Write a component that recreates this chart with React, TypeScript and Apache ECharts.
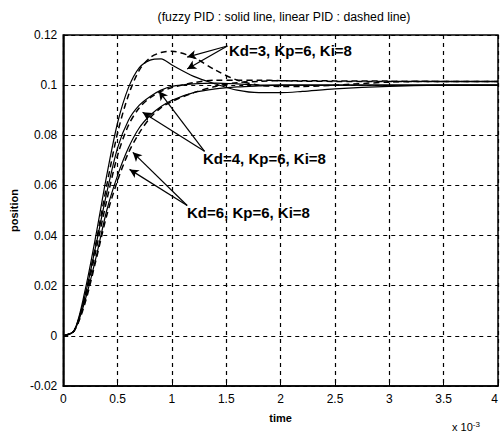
import React, { useEffect, useRef } from "react";
import * as echarts from "echarts";

const timeTicks = [0, 0.1, 0.2, 0.3, 0.4, 0.5, 0.6, 0.7, 0.8, 0.9, 1.0, 1.2, 1.4, 1.6, 1.8, 2.0, 2.2, 2.5, 3.0, 3.5, 4.0];

const fuzzyKd3 = [0, 0.002, 0.018, 0.040, 0.064, 0.085, 0.099, 0.107, 0.110, 0.1105, 0.108, 0.1035, 0.1005, 0.098, 0.097, 0.097, 0.0975, 0.0985, 0.0995, 0.1, 0.1];
const linearKd3 = [0, 0.002, 0.016, 0.037, 0.060, 0.081, 0.096, 0.106, 0.111, 0.113, 0.1135, 0.111, 0.106, 0.102, 0.1, 0.0995, 0.0995, 0.1, 0.1012, 0.1015, 0.1015];
const fuzzyKd4 = [0, 0.002, 0.016, 0.036, 0.057, 0.075, 0.086, 0.092, 0.0955, 0.098, 0.0995, 0.1005, 0.1008, 0.1005, 0.1, 0.1, 0.1, 0.1, 0.1, 0.1, 0.1];
const linearKd4 = [0, 0.002, 0.015, 0.034, 0.054, 0.072, 0.084, 0.091, 0.095, 0.0975, 0.099, 0.101, 0.102, 0.102, 0.102, 0.1018, 0.1016, 0.1015, 0.1015, 0.1015, 0.1015];
const fuzzyKd6 = [0, 0.002, 0.014, 0.031, 0.050, 0.064, 0.075, 0.083, 0.088, 0.0915, 0.094, 0.097, 0.0985, 0.0993, 0.0997, 0.1, 0.1, 0.1, 0.1, 0.1, 0.1];
const linearKd6 = [0, 0.002, 0.013, 0.030, 0.048, 0.062, 0.073, 0.081, 0.087, 0.091, 0.0935, 0.097, 0.0995, 0.101, 0.1015, 0.1018, 0.1018, 0.1017, 0.1016, 0.1015, 0.1015];

const annotationLabels = ["Kd=3, Kp=6, Ki=8", "Kd=4, Kp=6, Ki=8", "Kd=6, Kp=6, Ki=8"];
// arrows: [start, end] in data coordinates (time x1e-3, position)
const arrowsKd3 = [[[1.51, 0.1156], [1.14, 0.1112]], [[1.51, 0.1156], [1.14, 0.1064]]];
const arrowsKd4 = [[[1.30, 0.0736], [0.88, 0.0976]], [[1.30, 0.0736], [0.73, 0.0892]]];
const arrowsKd6 = [[[1.14, 0.052], [0.64, 0.0732]], [[1.14, 0.052], [0.61, 0.0664]]];

const pairs = (ys: number[]) => timeTicks.map((t, i) => [t, ys[i]]);

export default function App() {
  const ref = useRef<HTMLDivElement>(null);
  useEffect(() => {
    if (!ref.current) return;
    const chart = echarts.init(ref.current, null, { renderer: "svg" });
    const font = "Liberation Sans, Arial, sans-serif";
    const solid = (name: string, ys: number[]) => ({
      name, type: "line", data: pairs(ys), showSymbol: false, smooth: 0.3,
      lineStyle: { color: "#000", width: 1.2, type: "solid" },
    });
    const dashed = (name: string, ys: number[]) => ({
      name, type: "line", data: pairs(ys), showSymbol: false, smooth: 0.3,
      lineStyle: { color: "#000", width: 1.5, type: [6, 4] },
    });
    const allArrows = [...arrowsKd3, ...arrowsKd4, ...arrowsKd6].map((a) => [
      { coord: a[0], symbol: "none" },
      { coord: a[1], symbol: "arrow" },
    ]);
    const fmt = (v: number) => String(parseFloat(v.toFixed(2)));
    chart.setOption({
      animation: false,
      backgroundColor: "#fff",
      textStyle: { fontFamily: font },
      title: {
        text: "(fuzzy PID : solid line, linear PID : dashed line)",
        left: 279, top: 6, textAlign: "center",
        textStyle: { fontSize: 12.3, fontWeight: "normal", color: "#000", fontFamily: font },
      },
      grid: { left: 60, right: 2, top: 35, bottom: 50, show: true, borderColor: "#000", borderWidth: 1.5 },
      xAxis: {
        type: "value", min: 0, max: 4, interval: 0.5,
        name: "time", nameLocation: "middle", nameGap: 26,
        nameTextStyle: { fontSize: 11, fontWeight: "bold", color: "#000" },
        axisLine: { onZero: false, lineStyle: { color: "#000", width: 1.5 } },
        axisTick: { inside: true, lineStyle: { color: "#000" } },
        axisLabel: { color: "#000", fontSize: 12, margin: 7, alignMaxLabel: "right", showMaxLabel: true, formatter: fmt },
        splitLine: { show: true, lineStyle: { color: "#000", type: [4, 4], width: 1.2 } },
      },
      yAxis: {
        type: "value", min: -0.02, max: 0.12, interval: 0.02,
        name: "position", nameLocation: "middle", nameGap: 42,
        nameTextStyle: { fontSize: 11, fontWeight: "bold", color: "#000" },
        axisLine: { onZero: false, lineStyle: { color: "#000", width: 1.5 } },
        axisTick: { inside: true, lineStyle: { color: "#000" } },
        axisLabel: { color: "#000", fontSize: 12, margin: 6, formatter: fmt },
        splitLine: { show: true, lineStyle: { color: "#000", type: [4, 4], width: 1.2 } },
      },
      series: [
        { ...solid("fuzzy Kd=3", fuzzyKd3),
          markLine: { silent: true, symbolSize: [7, 9], lineStyle: { color: "#000", width: 1.2, type: "solid" }, label: { show: false }, data: allArrows } },
        dashed("linear Kd=3", linearKd3),
        solid("fuzzy Kd=4", fuzzyKd4),
        dashed("linear Kd=4", linearKd4),
        solid("fuzzy Kd=6", fuzzyKd6),
        dashed("linear Kd=6", linearKd6),
      ],
      graphic: [
        { type: "text", left: 229, top: 43, style: { text: annotationLabels[0], font: "bold 15px " + font, fill: "#000" } },
        { type: "text", left: 203, top: 151, style: { text: annotationLabels[1], font: "bold 15px " + font, fill: "#000" } },
        { type: "text", left: 187, top: 205, style: { text: annotationLabels[2], font: "bold 15px " + font, fill: "#000" } },
        { type: "text", left: 452, top: 420, style: {
            text: "{a|x 10}{b|-3}", fill: "#000",
            rich: { a: { fontSize: 11, fontFamily: font, fill: "#000" }, b: { fontSize: 8, fontFamily: font, verticalAlign: "top", padding: [0, 0, 6, 0], fill: "#000" } },
          } },
      ],
    });
    return () => chart.dispose();
  }, []);
  return <div ref={ref} style={{ position: "absolute", left: 0, top: 0, width: 501, height: 436 }} />;
}
